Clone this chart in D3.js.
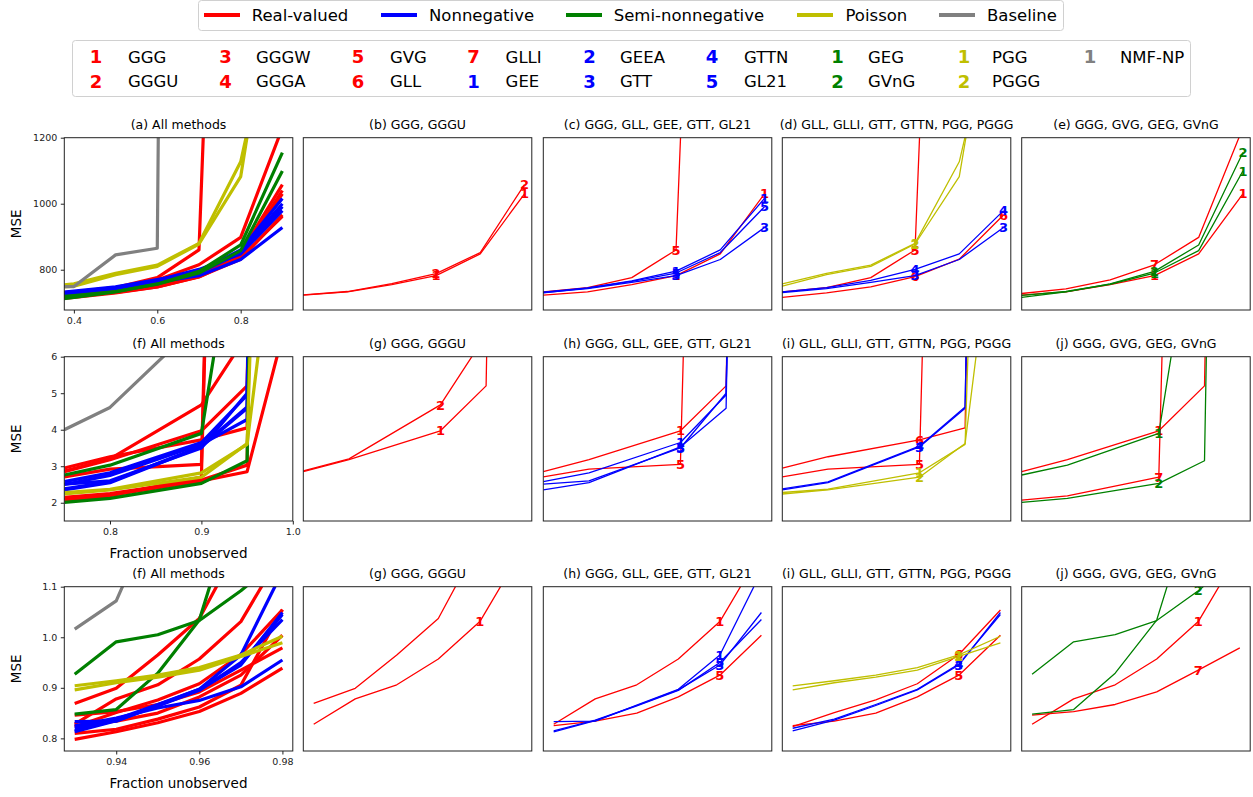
<!DOCTYPE html>
<html>
<head>
<meta charset="utf-8">
<script src="https://cdn.jsdelivr.net/npm/d3@7"></script>
<style>
  body { margin: 0; background: #fff; }
  svg { font-family: "DejaVu Sans", sans-serif; }
</style>
</head>
<body>
<svg id="chart" width="1253" height="797"></svg>
<script>
// methods, in legend order
const methods = ["GGG", "GGGU", "GGGW", "GGGA", "GVG", "GLL", "GLLI",
                 "GEE", "GEEA", "GTT", "GTTN", "GL21",
                 "GEG", "GVnG", "PGG", "PGGG", "NMF-NP"];
const methodGroup = [0, 0, 0, 0, 0, 0, 0, 1, 1, 1, 1, 1, 2, 2, 3, 3, 4];
const methodNum = [1, 2, 3, 4, 5, 6, 7, 1, 2, 3, 4, 5, 1, 2, 1, 2, 1];
// numbers as they are drawn on the curves of the small panels
const curveNum = [1, 2, 3, 4, 7, 5, 6, 1, 2, 3, 4, 5, 1, 2, 1, 2, 1];
const groupNames = ["Real-valued", "Nonnegative", "Semi-nonnegative", "Poisson", "Baseline"];
const groupColors = ["#ff0000", "#0000ff", "#008000", "#bfbf00", "#808080"];

// row 1
const xRow1 = [0.3, 0.4, 0.5, 0.6, 0.7, 0.8, 0.9];
const mseRow1 = [
  [712, 723, 733, 755, 782, 848, 1030],
  [713, 724, 734, 758, 788, 852, 1058],
  [714, 725, 735, 752, 780, 842, 1040],
  [710, 720, 731, 748, 778, 838, 962],
  [716, 728, 742, 769, 815, 898, 1230],
  [722, 733, 746, 776, 860, 4200, 9000],
  [705, 716, 730, 748, 779, 832, 966],
  [720, 732, 745, 766, 796, 860, 1016],
  [723, 735, 748, 770, 794, 855, 1000],
  [720, 731, 743, 762, 782, 831, 928],
  [722, 733, 746, 768, 801, 848, 979],
  [719, 730, 744, 765, 790, 852, 991],
  [710, 722, 734, 756, 790, 858, 1099],
  [702, 716, 733, 757, 795, 875, 1155],
  [745, 757, 789, 814, 880, 1127, 1700],
  [740, 750, 785, 810, 878, 1082, 1870],
  [748, 749, 845, 865, 15000, 20000, 25000]
];

// row 2
const xRow2 = [0.75, 0.8, 0.9, 0.95, 0.99];
const mseRow2 = [
  [2.85, 3.18, 3.97, 5.2, 60],
  [2.87, 3.2, 4.68, 6.6, 80],
  [2.15, 2.25, 2.62, 3.03, 70],
  [2.1, 2.2, 2.6, 2.85, 6.7],
  [2.07, 2.19, 2.7, 50, 90],
  [2.71, 2.92, 3.05, 50, 90],
  [2.95, 3.26, 3.72, 4.05, 60],
  [2.58, 2.82, 3.65, 4.95, 60],
  [2.5, 2.75, 3.6, 4.28, 60],
  [2.35, 2.55, 3.53, 4.59, 60],
  [2.38, 2.57, 3.55, 4.62, 60],
  [2.51, 2.6, 3.5, 5.0, 60],
  [2.76, 3.03, 3.9, 11.7, 30],
  [2.01, 2.12, 2.53, 3.15, 60],
  [2.28, 2.37, 2.82, 3.6, 35],
  [2.24, 2.35, 2.7, 3.62, 11.6],
  [4.0, 4.61, 7.0, 10, 20]
];

// row 3
const xRow3 = [0.93, 0.94, 0.95, 0.96, 0.97, 0.98];
const mseRow3 = [
  [0.828, 0.878, 0.906, 0.957, 1.031, 1.17],
  [0.869, 0.899, 0.965, 1.037, 1.19, 1.35],
  [0.798, 0.813, 0.831, 0.853, 0.889, 0.939],
  [0.81, 0.818, 0.838, 0.862, 0.905, 1.055],
  [0.846, 0.853, 0.867, 0.892, 0.935, 0.979],
  [0.825, 0.834, 0.85, 0.882, 0.925, 1.004],
  [0.823, 0.851, 0.876, 0.908, 0.966, 1.054],
  [0.833, 0.834, 0.866, 0.897, 0.965, 1.13],
  [0.825, 0.84, 0.86, 0.875, 0.902, 0.955],
  [0.815, 0.836, 0.865, 0.896, 0.945, 1.049],
  [0.82, 0.838, 0.867, 0.897, 0.947, 1.045],
  [0.813, 0.835, 0.864, 0.895, 0.95, 1.035],
  [0.848, 0.857, 0.929, 1.034, 1.3, 1.5],
  [0.927, 0.991, 1.005, 1.033, 1.092, 1.16],
  [0.904, 0.914, 0.925, 0.94, 0.965, 1.002],
  [0.896, 0.91, 0.921, 0.935, 0.962, 0.989],
  [1.016, 1.072, 1.26, 1.4, 1.5, 1.6]
];

const subsetB = ["GGG", "GGGU"];
const subsetC = ["GGG", "GLL", "GEE", "GTT", "GL21"];
const subsetD = ["GLL", "GLLI", "GTT", "GTTN", "PGG", "PGGG"];
const subsetE = ["GGG", "GVG", "GEG", "GVnG"];

const titlesRow1 = ["(a) All methods", "(b) GGG, GGGU", "(c) GGG, GLL, GEE, GTT, GL21",
                    "(d) GLL, GLLI, GTT, GTTN, PGG, PGGG", "(e) GGG, GVG, GEG, GVnG"];
const titlesRow23 = ["(f) All methods", "(g) GGG, GGGU", "(h) GGG, GLL, GEE, GTT, GL21",
                     "(i) GLL, GLLI, GTT, GTTN, PGG, PGGG", "(j) GGG, GVG, GEG, GVnG"];

const svg = d3.select("#chart");

// ---- layout
const colLeft = [64.3, 303.3, 543.3, 782.3, 1021.7];
const panelW = 228.5;

const rows = [
  { top: 137.7, bottom: 310, xs: xRow1, mse: mseRow1, titles: titlesRow1,
    xAll: [0.377, 0.925], xSub: [0.4, 0.9165], yDom: [678, 1200],
    xTicks: [0.4, 0.6, 0.8], xFmt: d3.format(".1f"),
    yTicks: [800, 1000, 1200], yFmt: d3.format("d"),
    labelAt: [0.7, 0.9], xlabel: false },
  { top: 356.7, bottom: 521, xs: xRow2, mse: mseRow2, titles: titlesRow23,
    xAll: [0.75, 1.0], xSub: [0.75, 1.0], yDom: [1.5, 6],
    xTicks: [0.8, 0.9, 1.0], xFmt: d3.format(".1f"),
    yTicks: [2, 3, 4, 5, 6], yFmt: d3.format("d"),
    labelAt: [0.9], xlabel: true },
  { top: 586.7, bottom: 751, xs: xRow3, mse: mseRow3, titles: titlesRow23,
    xAll: [0.9275, 0.9825], xSub: [0.9275, 0.9825], yDom: [0.775, 1.1],
    xTicks: [0.94, 0.96, 0.98], xFmt: d3.format(".2f"),
    yTicks: [0.8, 0.9, 1.0, 1.1], yFmt: d3.format(".1f"),
    labelAt: [0.97], xlabel: true }
];

const subsets = [null, subsetB, subsetC, subsetD, subsetE];

let clipN = 0;

rows.forEach((row, ri) => {
  const y = d3.scaleLinear().domain(row.yDom).range([row.bottom, row.top]);

  colLeft.forEach((left, ci) => {
    const x = d3.scaleLinear()
      .domain(ci === 0 ? row.xAll : row.xSub)
      .range([left, left + panelW]);

    const g = svg.append("g");
    const clipId = "clip" + (clipN++);
    g.append("clipPath").attr("id", clipId)
      .append("rect")
      .attr("x", left).attr("y", row.top)
      .attr("width", panelW).attr("height", row.bottom - row.top);

    const plot = g.append("g").attr("clip-path", `url(#${clipId})`);

    const line = d3.line()
      .x((d, i) => x(row.xs[i]))
      .y(d => y(d));

    const chosen = subsets[ci] ? methods.map((m, k) => k).filter(k => subsets[ci].includes(methods[k]))
                               : methods.map((m, k) => k);

    chosen.forEach(k => {
      plot.append("path")
        .datum(row.mse[k])
        .attr("d", line)
        .attr("fill", "none")
        .attr("stroke", groupColors[methodGroup[k]])
        .attr("stroke-width", ci === 0 ? 3.2 : 1.3)
        .attr("stroke-linejoin", "round");

      if (ci > 0) {
        row.labelAt.forEach(lx => {
          const idx = row.xs.findIndex(v => Math.abs(v - lx) < 1e-9);
          const v = row.mse[k][idx];
          if (v < row.yDom[0] || v > row.yDom[1]) return;
          plot.append("text")
            .attr("x", x(lx))
            .attr("y", y(v))
            .attr("dy", "0.36em")
            .attr("text-anchor", "middle")
            .attr("font-size", 13)
            .attr("font-weight", "bold")
            .attr("fill", groupColors[methodGroup[k]])
            .text(curveNum[k]);
        });
      }
    });

    // frame
    g.append("rect")
      .attr("x", left).attr("y", row.top)
      .attr("width", panelW).attr("height", row.bottom - row.top)
      .attr("fill", "none").attr("stroke", "#222").attr("stroke-width", 1);

    // title
    g.append("text")
      .attr("x", left + panelW / 2)
      .attr("y", row.top - 9)
      .attr("text-anchor", "middle")
      .attr("font-size", 12.5)
      .attr("fill", "#000")
      .text(row.titles[ci]);

    if (ci === 0) {
      const ax = g.append("g")
        .attr("transform", `translate(0,${row.bottom})`)
        .call(d3.axisBottom(x).tickValues(row.xTicks).tickFormat(row.xFmt).tickSize(3.5).tickPadding(3.5));
      const ay = g.append("g")
        .attr("transform", `translate(${left},0)`)
        .call(d3.axisLeft(y).tickValues(row.yTicks).tickFormat(row.yFmt).tickSize(3.5).tickPadding(3.5));
      [ax, ay].forEach(a => {
        a.select(".domain").remove();
        a.selectAll("text").attr("font-size", 9.5).attr("fill", "#222")
          .style("font-family", "DejaVu Sans, sans-serif");
        a.selectAll("line").attr("stroke", "#222");
      });

      g.append("text")
        .attr("transform", `translate(16,${(row.top + row.bottom) / 2}) rotate(-90)`)
        .attr("text-anchor", "middle")
        .attr("dy", "0.36em")
        .attr("font-size", 13.5)
        .text("MSE");

      if (row.xlabel) {
        g.append("text")
          .attr("x", left + panelW / 2)
          .attr("y", row.bottom + 32)
          .attr("dy", "0.36em")
          .attr("text-anchor", "middle")
          .attr("font-size", 13.5)
          .text("Fraction unobserved");
      }
    }
  });
});

// ---- legend 1: groups
const leg1 = svg.append("g");
leg1.append("rect")
  .attr("x", 198.5).attr("y", 0.5).attr("width", 865).attr("height", 30)
  .attr("rx", 3).attr("fill", "#fff").attr("stroke", "#d0d0d0");
const leg1Swatch = [204, 381, 566, 797, 939];
const leg1Text = [251.7, 429, 613.7, 845.5, 987];
groupNames.forEach((name, i) => {
  leg1.append("line")
    .attr("x1", leg1Swatch[i]).attr("x2", leg1Swatch[i] + 36)
    .attr("y1", 15).attr("y2", 15)
    .attr("stroke", groupColors[i]).attr("stroke-width", 4);
  leg1.append("text")
    .attr("x", leg1Text[i]).attr("y", 15).attr("dy", "0.36em")
    .attr("font-size", 16.5).text(name);
});

// ---- legend 2: methods (two rows, column-major)
const leg2 = svg.append("g");
leg2.append("rect")
  .attr("x", 72.5).attr("y", 40.5).attr("width", 1118).attr("height", 56)
  .attr("rx", 3).attr("fill", "#fff").attr("stroke", "#d0d0d0");
const leg2NumX = [96, 225.6, 358, 473.6, 589.6, 712, 837.6, 964, 1090];
const leg2NameX = [128, 256, 390, 505.6, 620, 744, 868, 992, 1120];
const leg2RowY = [57, 81.5];
methods.forEach((m, k) => {
  const col = Math.floor(k / 2), r = k % 2;
  leg2.append("text")
    .attr("x", leg2NumX[col]).attr("y", leg2RowY[r]).attr("dy", "0.36em")
    .attr("text-anchor", "middle").attr("font-size", 18).attr("font-weight", "bold")
    .attr("fill", groupColors[methodGroup[k]])
    .text(methodNum[k]);
  leg2.append("text")
    .attr("x", leg2NameX[col]).attr("y", leg2RowY[r]).attr("dy", "0.36em")
    .attr("font-size", 16.5).text(m);
});
</script>
</body>
</html>
